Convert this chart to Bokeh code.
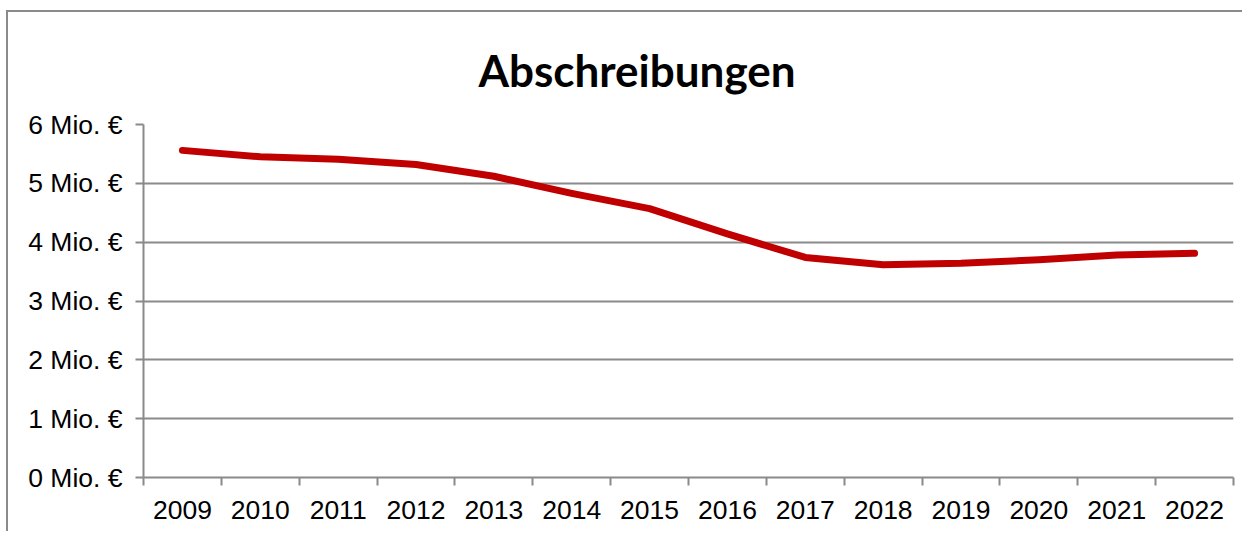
from bokeh.plotting import figure
from bokeh.models import FixedTicker, Range1d, Title
from bokeh.embed import file_html
from bokeh.resources import INLINE

years = ["2009", "2010", "2011", "2012", "2013", "2014", "2015",
         "2016", "2017", "2018", "2019", "2020", "2021", "2022"]
abschreibungen = [5.56, 5.45, 5.41, 5.32, 5.12, 4.83, 4.57,
                  4.14, 3.74, 3.615, 3.64, 3.70, 3.78, 3.81]
y_ticks = [0, 1, 2, 3, 4, 5, 6]
y_labels = [f"{v} Mio. €" for v in y_ticks]
title_text = "Abschreibungen"

n = len(years)
xs = [i + 0.5 for i in range(n)]

GRAY = "#8a8a8a"

p = figure(width=1236, height=521, output_backend="svg", toolbar_location=None,
           x_range=Range1d(0, n), y_range=Range1d(0, 6),
           min_border_left=135, min_border_right=11,
           min_border_top=112, min_border_bottom=56)
p.styles = {"border-top": f"2px solid {GRAY}", "border-left": f"2px solid {GRAY}",
            "margin-left": "6px", "margin-top": "10px"}
p.outline_line_color = None
p.background_fill_color = "white"
p.border_fill_color = "white"

t = Title(text=title_text, align="left", offset=335,
          text_font="Lato", text_font_style="bold", text_font_size="44px",
          text_color="black", standoff=57)
p.add_layout(t, "above")

p.line(xs, abschreibungen, line_color="#c00000", line_width=7,
       line_cap="round", line_join="round")

# x axis: labels at category centres, ticks at category boundaries
xax = p.xaxis[0]
xax.ticker = FixedTicker(ticks=xs, minor_ticks=list(range(n + 1)))
xax.major_label_overrides = {x: yr for x, yr in zip(xs, years)}
xax.major_tick_out = 0
xax.major_tick_in = 0
xax.minor_tick_out = 8
xax.minor_tick_in = 0
xax.minor_tick_line_color = GRAY
xax.minor_tick_line_width = 2
xax.axis_line_color = GRAY
xax.axis_line_width = 2
xax.major_label_text_font = "Liberation Sans"
xax.major_label_text_font_size = "26.5px"
xax.major_label_text_color = "black"
xax.major_label_standoff = 15

yax = p.yaxis[0]
yax.ticker = FixedTicker(ticks=y_ticks)
yax.major_label_overrides = {v: lab for v, lab in zip(y_ticks, y_labels)}
yax.major_tick_out = 8
yax.major_tick_in = 0
yax.minor_tick_out = 0
yax.minor_tick_in = 0
yax.major_tick_line_color = GRAY
yax.major_tick_line_width = 2
yax.axis_line_color = GRAY
yax.axis_line_width = 2
yax.major_label_text_font = "Liberation Sans"
yax.major_label_text_font_size = "26.5px"
yax.major_label_text_color = "black"
yax.major_label_standoff = 13

p.xgrid.grid_line_color = None
p.ygrid.grid_line_color = GRAY
p.ygrid.grid_line_width = 2
p.ygrid.ticker = FixedTicker(ticks=y_ticks)

open("out.html", "w").write(file_html(p, INLINE))
